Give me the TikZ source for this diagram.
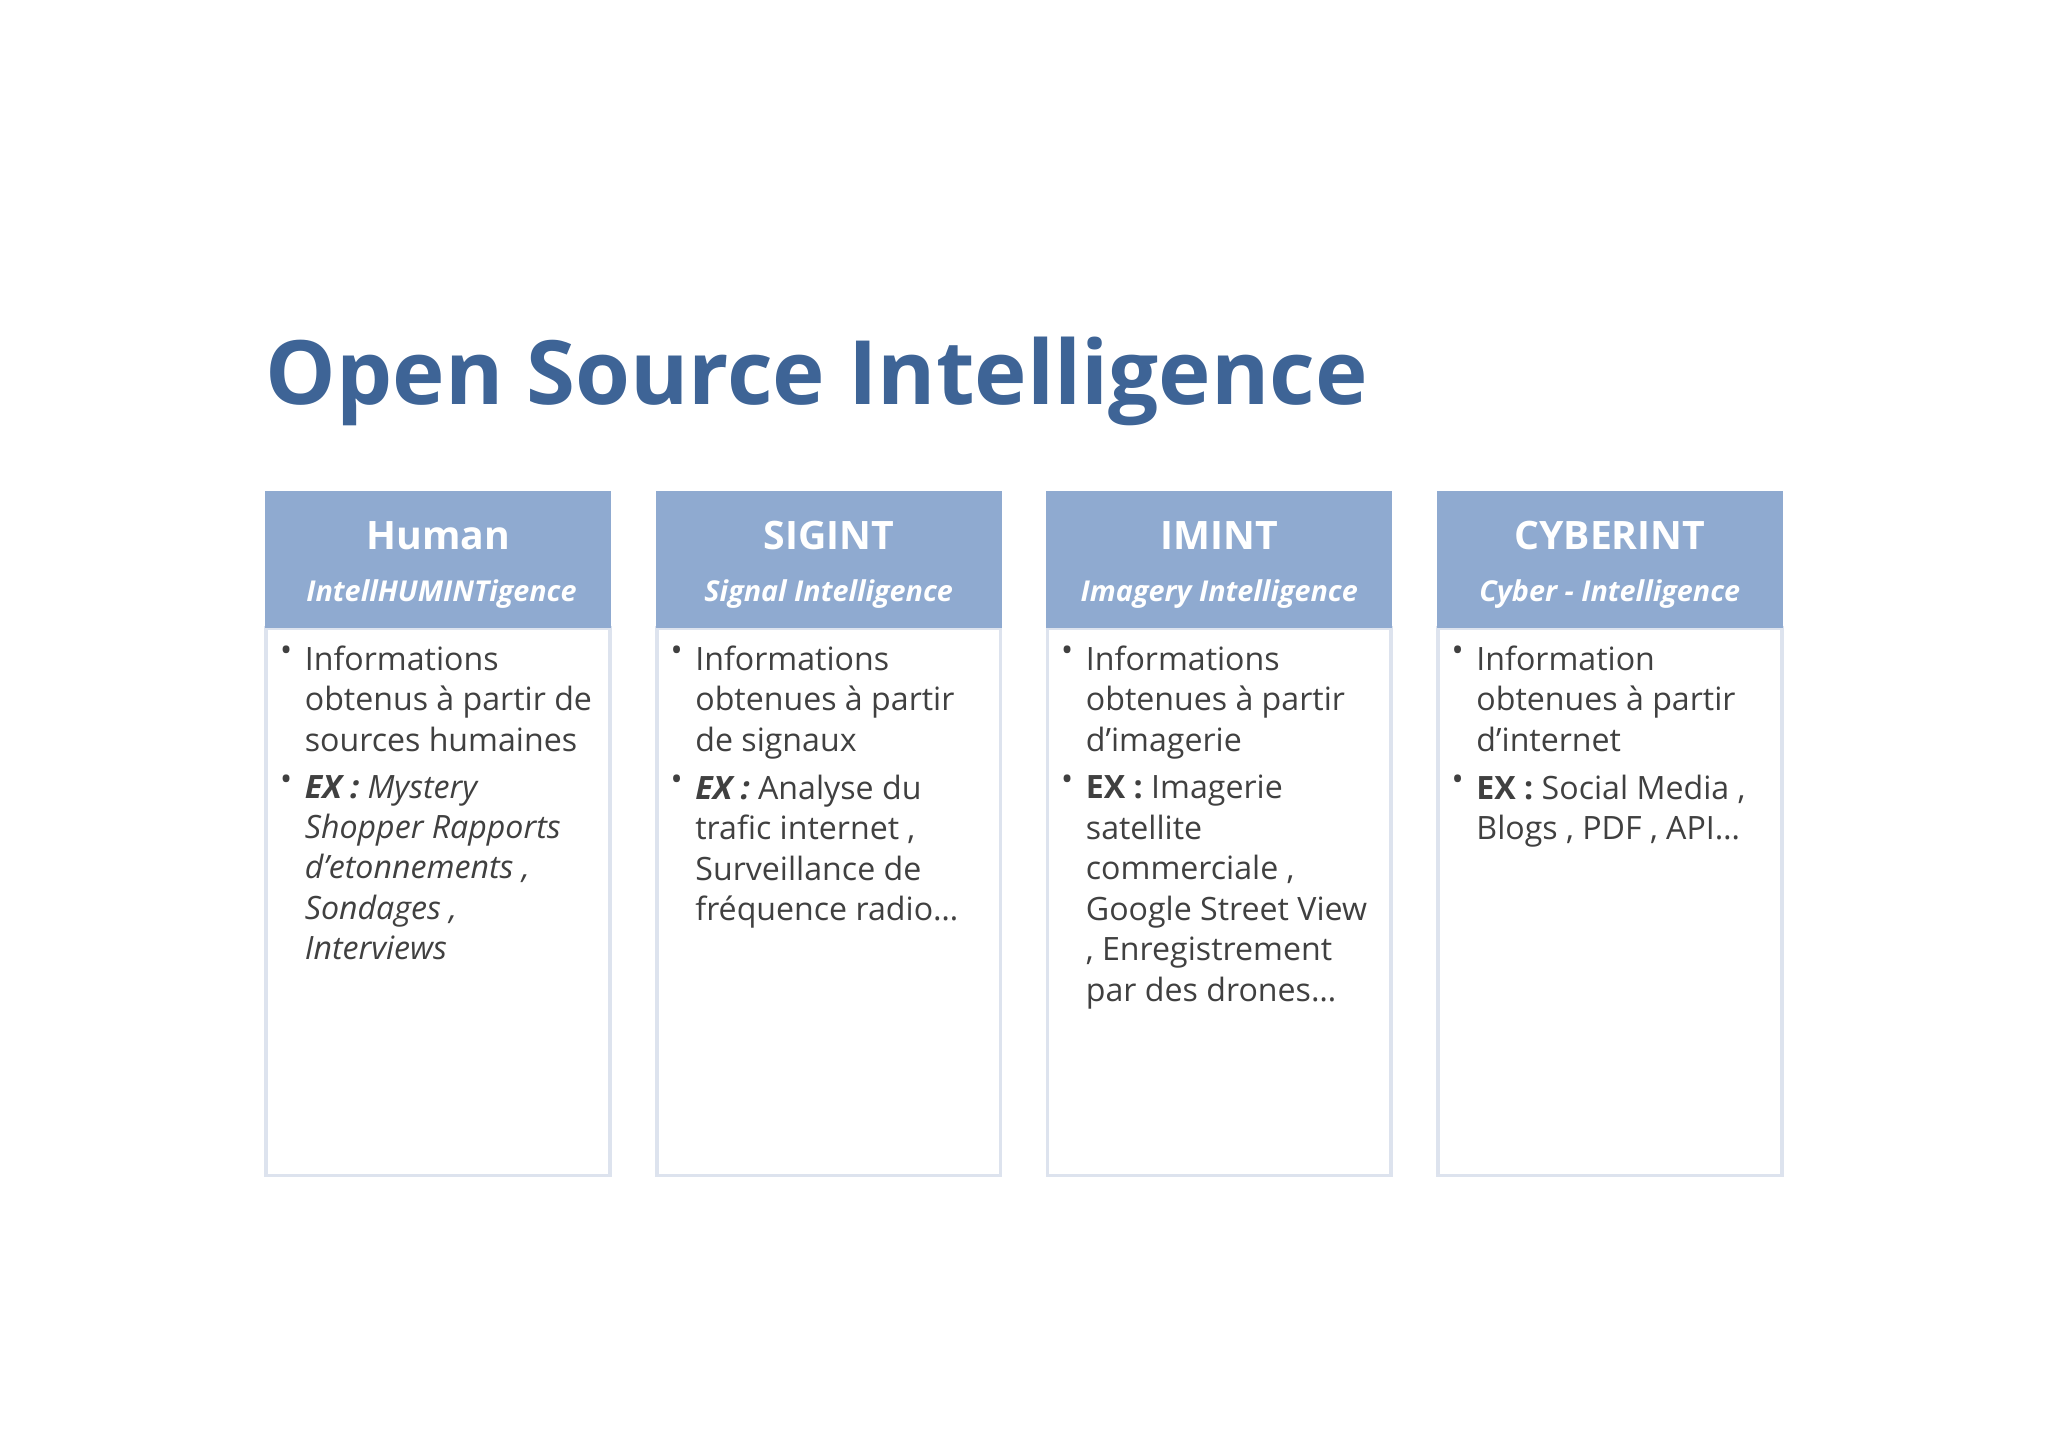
\documentclass[tikz,border=0pt]{standalone}
\usepackage{fontspec}
\setmainfont{Open Sans}
\definecolor{ttl}{HTML}{3E6496}
\definecolor{hdr}{HTML}{8FAAD0}
\definecolor{brd}{HTML}{DDE3EE}
\definecolor{txt}{HTML}{404040}
\begin{document}
\begin{tikzpicture}[x=0.5pt,y=-0.5pt,
 hd/.style={fill=hdr,draw=none},
 bd/.style={draw=brd,line width=1.5pt,fill=white},
 ht/.style={text=white,font=\fontsize{15}{18}\selectfont\bfseries},
 st/.style={text=white,font=\fontsize{11}{13}\selectfont\bfseries\itshape},
 it/.style={anchor=north west,align=left,text=txt,inner sep=0pt,font=\fontsize{12.3}{15.5}\selectfont},
 bu/.style={anchor=north west,text=txt,inner sep=0pt,font=\fontsize{12.3}{15.5}\selectfont}]
\useasboundingbox (0,0) rectangle (1568,1109);
\node[anchor=west,text=ttl,font=\fontsize{34}{40}\selectfont\bfseries,inner sep=0pt] (title) at (203,292) {Open Source Intelligence};
\foreach \x/\n in {203/a,502/b,801/c,1100/d}{
 \draw[bd] (\x+1,481) rectangle (\x+264,900);
 \fill[hd] (\x,376) rectangle (\x+265,481);
}
\node[ht] (ha) at (335.5,410) {Human};
\node[st] (sa) at (338,455) {IntellHUMINTigence};
\node[ht] (hb) at (634.5,410) {SIGINT};
\node[st] (sb) at (634.5,455) {Signal Intelligence};
\node[ht] (hc) at (933.5,410) {IMINT};
\node[st] (sc) at (933.5,455) {Imagery Intelligence};
\node[ht] (hd) at (1232.5,410) {CYBERINT};
\node[st] (sd) at (1232.5,455) {Cyber - Intelligence};
% column A
\node[bu] (a1b) at (214,494) {•};
\node[it] (a1) at (233,494) {Informations\\obtenus à partir de\\sources humaines};
\node[bu] (a2b) at (214,593) {•};
\node[it] (a2) at (233,593) {\textbf{\textit{EX :}} \textit{Mystery}\\\textit{Shopper Rapports}\\\textit{d'etonnements ,}\\\textit{Sondages ,}\\\textit{Interviews}};
% column B
\node[bu] (b1b) at (513,494) {•};
\node[it] (b1) at (532,494) {Informations\\obtenues à partir\\de signaux};
\node[bu] (b2b) at (513,593) {•};
\node[it] (b2) at (532,593) {\textbf{\textit{EX :}} Analyse du\\trafic internet ,\\Surveillance de\\fréquence radio…};
% column C
\node[bu] (c1b) at (812,494) {•};
\node[it] (c1) at (831,494) {Informations\\obtenues à partir\\d'imagerie};
\node[bu] (c2b) at (812,593) {•};
\node[it] (c2) at (831,593) {\textbf{EX :} Imagerie\\satellite\\commerciale ,\\Google Street View\\, Enregistrement\\par des drones…};
% column D
\node[bu] (d1b) at (1111,494) {•};
\node[it] (d1) at (1130,494) {Information\\obtenues à partir\\d'internet};
\node[bu] (d2b) at (1111,593) {•};
\node[it] (d2) at (1130,593) {\textbf{EX :} Social Media ,\\Blogs , PDF , API…};
\end{tikzpicture}
\end{document}
